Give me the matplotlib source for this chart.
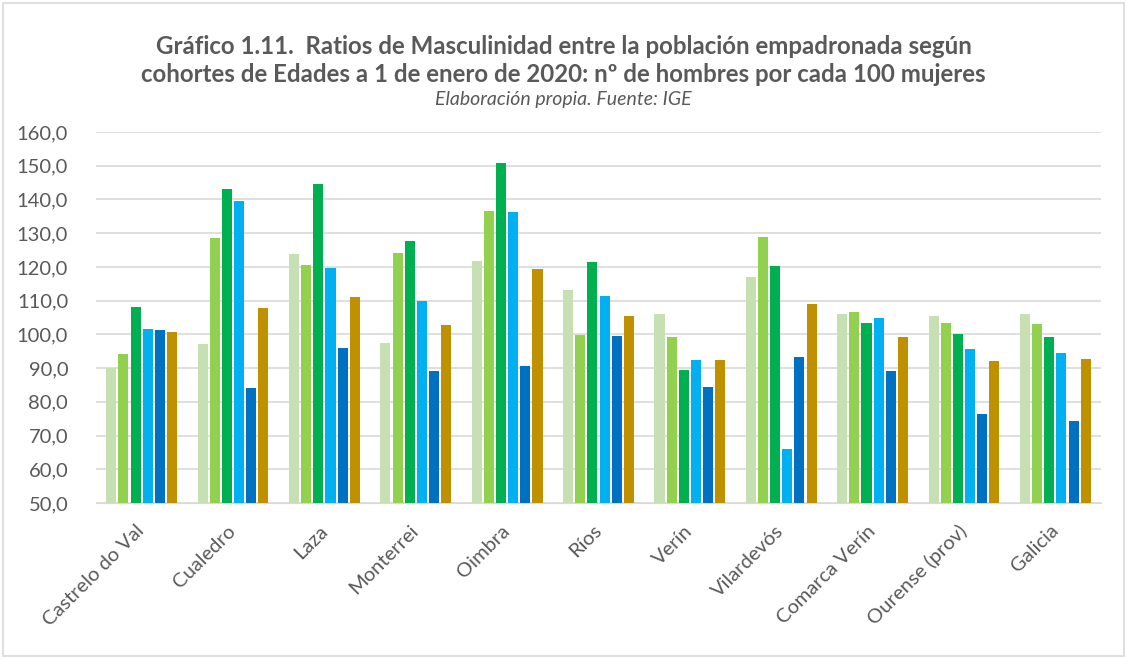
import numpy as np
import matplotlib.pyplot as plt

plt.rcParams['font.family'] = ['Lato', 'DejaVu Sans']

municipios = ["Castrelo do Val", "Cualedro", "Laza", "Monterrei", "Oimbra", "Ríos",
              "Verín", "Vilardevós", "Comarca Verín", "Ourense (prov)", "Galicia"]

# ratio values per age cohort (series 1..6)
serie1 = [90.0, 97.2, 123.8, 97.3, 121.9, 113.1, 106.1, 117.0, 106.1, 105.5, 106.0]
serie2 = [94.1, 128.5, 120.5, 124.2, 136.7, 99.9, 99.3, 128.9, 106.5, 103.3, 103.0]
serie3 = [108.1, 143.2, 144.5, 127.6, 150.7, 121.6, 89.5, 120.4, 103.3, 100.2, 99.1]
serie4 = [101.7, 139.4, 119.6, 109.8, 136.3, 111.3, 92.3, 66.1, 104.8, 95.6, 94.4]
serie5 = [101.3, 84.1, 96.1, 89.0, 90.7, 99.4, 84.5, 93.3, 89.0, 76.3, 74.3]
serie6 = [100.6, 107.8, 111.0, 102.9, 119.5, 105.3, 92.3, 108.9, 99.1, 92.0, 92.6]

series = [serie1, serie2, serie3, serie4, serie5, serie6]
colores = ["#C6E0B4", "#92D050", "#00B050", "#00B0F0", "#0070C0", "#BF9000"]

fig = plt.figure(figsize=(11.27, 6.59), dpi=100)
ax = fig.add_axes([96 / 1127, 1 - 503 / 659, (1101 - 96) / 1127, (503 - 132) / 659])

# chart border
fig.patches.append(plt.Rectangle((3 / 1127, 3 / 659), 1 - 6 / 1127, 1 - 6 / 659,
                                 transform=fig.transFigure, fill=False,
                                 edgecolor="#D9D9D9", linewidth=1.2))

x = np.arange(len(municipios))
ancho = 0.11
paso = 0.133
for i, (vals, col) in enumerate(zip(series, colores)):
    ax.bar(x + (i - 2.5) * paso, vals, width=ancho, color=col, zorder=3)

ax.set_ylim(50, 160)
ax.set_xlim(-0.5, len(municipios) - 0.5)
ax.set_yticks(np.arange(50, 161, 10))
ax.set_yticklabels([f"{v:.1f}".replace(".", ",") for v in np.arange(50, 161, 10)],
                   fontsize=14.5, color="#595959")
ax.set_xticks(x)
ax.set_xticklabels(municipios, rotation=45, ha="right", va="center", rotation_mode="anchor",
                   fontsize=14.5, color="#595959")
ax.tick_params(axis="y", length=0, pad=20)
ax.tick_params(axis="x", length=0, pad=18)
ax.grid(axis="y", color="#D9D9D9", linewidth=1.2, zorder=0)
for s in ax.spines.values():
    s.set_visible(False)
ax.spines["bottom"].set_visible(True)
ax.spines["bottom"].set_color("#D9D9D9")

fig.text(0.5, 1 - 46 / 659, "Gráfico 1.11.  Ratios de Masculinidad entre la población empadronada según",
         ha="center", va="center", fontsize=17.3, fontweight="bold", color="#595959")
fig.text(0.5, 1 - 74 / 659, "cohortes de Edades a 1 de enero de 2020: nº de hombres por cada 100 mujeres",
         ha="center", va="center", fontsize=17.3, fontweight="bold", color="#595959")
fig.text(0.5, 1 - 99 / 659, "Elaboración propia. Fuente: IGE",
         ha="center", va="center", fontsize=14, style="italic", color="#595959")

fig.savefig("out.png", dpi=100)
